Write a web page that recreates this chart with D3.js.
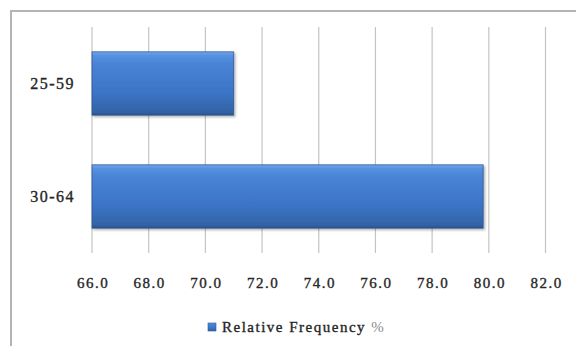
<!DOCTYPE html>
<html>
<head>
<meta charset="utf-8">
<script src="https://cdn.jsdelivr.net/npm/d3@7"></script>
<style>
  html, body { margin: 0; padding: 0; background: #fff; }
  svg { display: block; }
</style>
</head>
<body>
<svg id="chart" width="576" height="346"></svg>
<script>
// Age groups and their relative frequency (%)
const categories = ["25-59", "30-64"];
const values = [71.0, 79.8];
const xTicks = [66, 68, 70, 72, 74, 76, 78, 80, 82];
const seriesName = "Relative Frequency";
const seriesUnit = "%";

const FONT = "'Liberation Serif'";
const INK = "#262626";

const svg = d3.select("#chart");
const W = 576, H = 346;

// Outer chart frame
svg.append("rect")
  .attr("x", 11).attr("y", 11)
  .attr("width", W).attr("height", H)
  .attr("fill", "#fff")
  .attr("stroke", "#b4b4b4")
  .attr("stroke-width", 2);

const plot = { left: 92, right: 545.5, top: 27, bottom: 253 };

const x = d3.scaleLinear()
  .domain([66, 82])
  .range([plot.left, plot.right]);

const y = d3.scaleBand()
  .domain(categories)
  .range([plot.top, plot.bottom])
  .paddingInner(0.44)
  .paddingOuter(0.22);

// Bar fill: glossy blue gradient, lighter on top
const defs = svg.append("defs");
const grad = defs.append("linearGradient")
  .attr("id", "barGrad")
  .attr("x1", 0).attr("y1", 0).attr("x2", 0).attr("y2", 1);
[[0, "#74a6ec"], [0.06, "#5690e0"], [0.2, "#4883d5"], [0.65, "#3c74c6"], [0.95, "#3263a6"], [1, "#2a5187"]]
  .forEach(([o, c]) => grad.append("stop").attr("offset", o).attr("stop-color", c));

const shadow = defs.append("filter").attr("id", "barShadow")
  .attr("x", "-5%").attr("y", "-10%").attr("width", "115%").attr("height", "130%");
shadow.append("feDropShadow")
  .attr("dx", 1.5).attr("dy", 1.5).attr("stdDeviation", 1.2)
  .attr("flood-color", "#000").attr("flood-opacity", 0.3);

// Vertical gridlines
svg.append("g")
  .selectAll("line")
  .data(xTicks)
  .join("line")
  .attr("x1", d => x(d)).attr("x2", d => x(d))
  .attr("y1", plot.top).attr("y2", plot.bottom)
  .attr("stroke", "#c4c4c4")
  .attr("stroke-width", 1.2);

// Bars
svg.append("g")
  .selectAll("rect")
  .data(categories.map((c, i) => ({ c, v: values[i] })))
  .join("rect")
  .attr("x", x(66))
  .attr("y", d => y(d.c))
  .attr("width", d => x(d.v) - x(66))
  .attr("height", y.bandwidth())
  .attr("fill", "url(#barGrad)")
  .attr("stroke", "#2d5892")
  .attr("stroke-width", 0.8)
  .attr("filter", "url(#barShadow)");

// Category labels
svg.append("g")
  .selectAll("text")
  .data(categories)
  .join("text")
  .attr("x", 75)
  .attr("y", d => y(d) + y.bandwidth() / 2)
  .attr("dy", "0.35em")
  .attr("text-anchor", "end")
  .style("font-family", FONT)
  .style("font-size", "16px")
  .style("letter-spacing", "1.5px")
  .attr("fill", INK)
  .attr("stroke", INK).attr("stroke-width", 0.35)
  .text(d => d);

// Value axis tick labels
svg.append("g")
  .selectAll("text")
  .data(xTicks)
  .join("text")
  .attr("x", d => x(d) + 1)
  .attr("y", 283)
  .attr("dy", "0.35em")
  .attr("text-anchor", "middle")
  .style("font-family", FONT)
  .style("font-size", "15px")
  .style("letter-spacing", "1.5px")
  .attr("fill", INK)
  .attr("stroke", INK).attr("stroke-width", 0.35)
  .text(d => d3.format(".1f")(d));

// Legend
const lg = svg.append("g");
lg.append("rect")
  .attr("x", 208).attr("y", 323)
  .attr("width", 8).attr("height", 8)
  .attr("fill", "url(#barGrad)")
  .attr("stroke", "#2d5892").attr("stroke-width", 0.6);
const lt = lg.append("text")
  .attr("x", 222).attr("y", 327)
  .attr("dy", "0.35em")
  .style("font-family", FONT)
  .style("font-size", "15px")
  .style("letter-spacing", "1.5px");
lt.append("tspan").attr("fill", INK)
  .attr("stroke", INK).attr("stroke-width", 0.35)
  .text(seriesName + " ");
lt.append("tspan").attr("fill", "#8a8a8a").text(seriesUnit);
</script>
</body>
</html>
